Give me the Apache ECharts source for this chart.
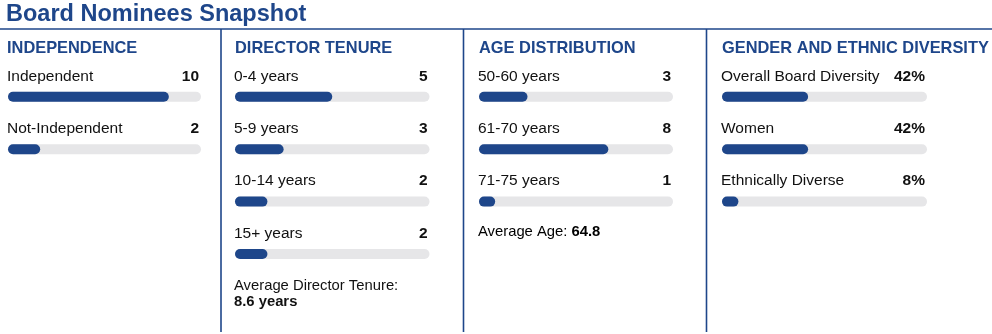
<!DOCTYPE html>
<html><head><meta charset="utf-8">
<script src="https://cdn.jsdelivr.net/npm/echarts@6/dist/echarts.min.js"></script>
<style>html,body{margin:0;padding:0;background:#fff}#c{width:992px;height:334px}</style>
</head><body><div id="c"></div>
<script>
// ---- data ----
const chartTitle = 'Board Nominees Snapshot';
const panelTitles = ['INDEPENDENCE', 'DIRECTOR TENURE', 'AGE DISTRIBUTION', 'GENDER AND ETHNIC DIVERSITY'];

const independenceCats = ['Independent', 'Not-Independent'];
const independenceVals = [10, 2];

const tenureCats = ['0-4 years', '5-9 years', '10-14 years', '15+ years'];
const tenureVals = [5, 3, 2, 2];
const tenureBarVals = [6, 3, 2, 2]; // bar lengths as drawn in the picture

const ageCats = ['50-60 years', '61-70 years', '71-75 years'];
const ageVals = [3, 8, 1];

const diversityCats = ['Overall Board Diversity', 'Women', 'Ethnically Diverse'];
const diversityVals = [42, 42, 8];

const boardSize = 12;
const pctMax = 100;
const avgTenureNote = ['Average Director Tenure:', '8.6 years'];
const avgAgeNote = ['Average Age: ', '64.8'];

// ---- styling ----
const BLUE = '#1e468a';
const TRACK = '#e6e6e8';
const FONT = '"Liberation Sans", Arial, Helvetica, sans-serif';
const ROW = 52.4;
const FIRST = 96.8;

const panels = [
  {cats: independenceCats, bars: independenceVals, labels: independenceVals.map(String), max: boardSize, left: 8, right: 201},
  {cats: tenureCats, bars: tenureBarVals, labels: tenureVals.map(String), max: boardSize, left: 235, right: 429.5},
  {cats: ageCats, bars: ageVals, labels: ageVals.map(String), max: boardSize, left: 479, right: 673},
  {cats: diversityCats, bars: diversityVals, labels: diversityVals.map(v => v + '%'), max: pctMax, left: 722, right: 927}
];

const grid = [], xAxis = [], yAxis = [], series = [];
panels.forEach((p, i) => {
  const n = p.cats.length;
  grid.push({left: p.left, width: p.right - p.left, top: FIRST - ROW / 2, height: ROW * n, containLabel: false});
  xAxis.push({gridIndex: i, type: 'value', min: 0, max: p.max, show: false});
  yAxis.push({gridIndex: i, type: 'category', data: p.cats, inverse: true, show: false});
  // track with value label on the right
  series.push({
    type: 'bar', xAxisIndex: i, yAxisIndex: i, barWidth: 10, silent: true,
    data: p.cats.map(() => p.max),
    itemStyle: {color: TRACK, borderRadius: 5},
    label: {
      show: true, position: ['100%', -15.5], align: 'right', verticalAlign: 'middle',
      offset: [-2, 0],
      formatter: (d) => p.labels[d.dataIndex],
      fontFamily: FONT, fontSize: 15.5, fontWeight: 'bold', color: '#111'
    },
    z: 2
  });
  // value bar with category label on the left
  series.push({
    type: 'bar', xAxisIndex: i, yAxisIndex: i, barWidth: 10, barGap: '-100%', silent: true,
    data: p.bars,
    itemStyle: {color: BLUE, borderRadius: 5},
    label: {
      show: true, position: [-1, -15.5], align: 'left', verticalAlign: 'middle',
      formatter: (d) => p.cats[d.dataIndex],
      fontFamily: FONT, fontSize: 15.5, color: '#111'
    },
    z: 3
  });
});

const titles = [{
  text: chartTitle, left: 6, top: 2.5, padding: 0,
  textStyle: {fontFamily: FONT, fontSize: 23.5, fontWeight: 'bold', color: BLUE}
}];
[7, 235, 479, 722].forEach((x, i) => titles.push({
  text: panelTitles[i], left: x, top: 40.5, padding: 0,
  textStyle: {fontFamily: FONT, fontSize: 16.4, fontWeight: 'bold', color: BLUE}
}));

const graphic = [
  {type: 'line', shape: {x1: 0, y1: 29, x2: 992, y2: 29}, style: {stroke: BLUE, lineWidth: 1.6}},
  {type: 'line', shape: {x1: 221, y1: 29, x2: 221, y2: 332}, style: {stroke: BLUE, lineWidth: 1.6}},
  {type: 'line', shape: {x1: 463.5, y1: 29, x2: 463.5, y2: 332}, style: {stroke: BLUE, lineWidth: 1.6}},
  {type: 'line', shape: {x1: 706.5, y1: 29, x2: 706.5, y2: 332}, style: {stroke: BLUE, lineWidth: 1.6}},
  {type: 'text', left: 234, top: 278, style: {text: avgTenureNote[0], font: '14.8px ' + FONT, fill: '#111'}},
  {type: 'text', left: 234, top: 294.5, style: {text: avgTenureNote[1], font: 'bold 14.8px ' + FONT, fill: '#111'}},
  {type: 'text', left: 478, top: 224.5, style: {
    rich: {a: {fontSize: 14.8, fontFamily: FONT, color: '#111'}, b: {fontSize: 14.8, fontFamily: FONT, fontWeight: 'bold', color: '#111'}},
    text: '{a|' + avgAgeNote[0] + '}{b|' + avgAgeNote[1] + '}'
  }}
];

const chart = echarts.init(document.getElementById('c'), null, {renderer: 'canvas'});
chart.setOption({animation: false, title: titles, grid, xAxis, yAxis, series, graphic});
</script></body></html>
